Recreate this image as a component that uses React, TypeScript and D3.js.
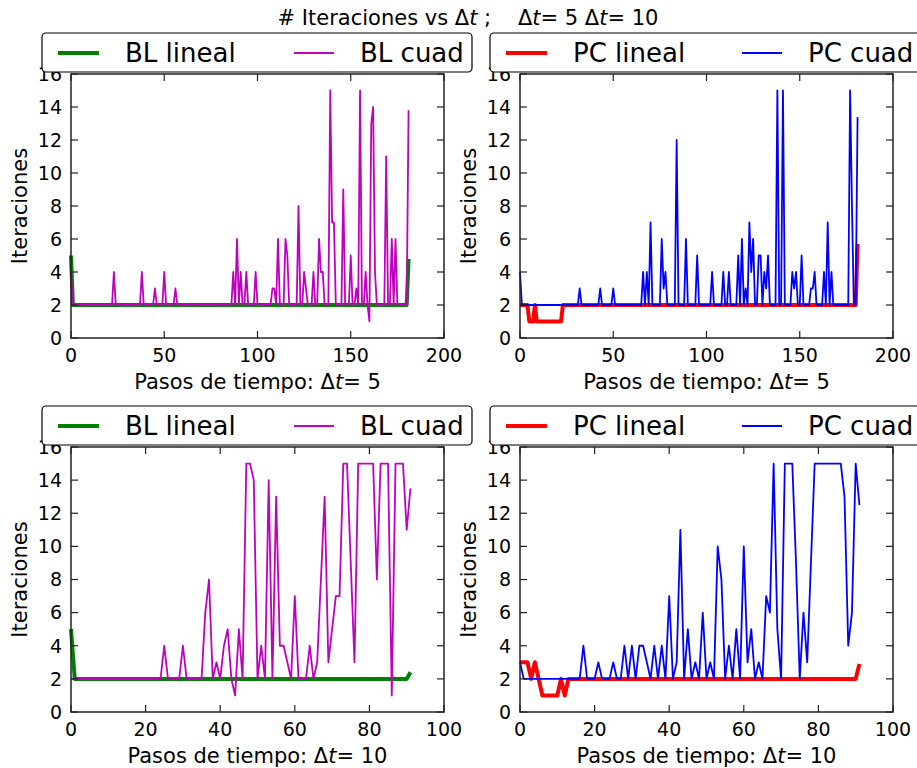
import React from 'react';
import * as d3 from 'd3';

// iteraciones por paso de tiempo, dt = 5 (182 pasos) y dt = 10 (92 pasos)
const blLinealDt5 = [
  5, 2, 2, 2, 2, 2, 2, 2, 2, 2, 2, 2, 2, 2, 2, 2, 2, 2, 2, 2,
  2, 2, 2, 2, 2, 2, 2, 2, 2, 2, 2, 2, 2, 2, 2, 2, 2, 2, 2, 2,
  2, 2, 2, 2, 2, 2, 2, 2, 2, 2, 2, 2, 2, 2, 2, 2, 2, 2, 2, 2,
  2, 2, 2, 2, 2, 2, 2, 2, 2, 2, 2, 2, 2, 2, 2, 2, 2, 2, 2, 2,
  2, 2, 2, 2, 2, 2, 2, 2, 2, 2, 2, 2, 2, 2, 2, 2, 2, 2, 2, 2,
  2, 2, 2, 2, 2, 2, 2, 2, 2, 2, 2, 2, 2, 2, 2, 2, 2, 2, 2, 2,
  2, 2, 2, 2, 2, 2, 2, 2, 2, 2, 2, 2, 2, 2, 2, 2, 2, 2, 2, 2,
  2, 2, 2, 2, 2, 2, 2, 2, 2, 2, 2, 2, 2, 2, 2, 2, 2, 2, 2, 2,
  2, 2, 2, 2, 2, 2, 2, 2, 2, 2, 2, 2, 2, 2, 2, 2, 2, 2, 2, 2,
  2, 4.8,
];

const blCuadDt5 = [
  4, 2, 2, 2, 2, 2, 2, 2, 2, 2, 2, 2, 2, 2, 2, 2, 2, 2, 2, 2,
  2, 2, 2, 4, 2, 2, 2, 2, 2, 2, 2, 2, 2, 2, 2, 2, 2, 2, 4, 2,
  2, 2, 2, 2, 2, 3, 2, 2, 2, 2, 4, 2, 2, 2, 2, 2, 3, 2, 2, 2,
  2, 2, 2, 2, 2, 2, 2, 2, 2, 2, 2, 2, 2, 2, 2, 2, 2, 2, 2, 2,
  2, 2, 2, 2, 2, 2, 2, 4, 2, 6, 2, 4, 2, 2, 4, 2, 2, 2, 2, 4,
  2, 2, 2, 2, 2, 2, 2, 2, 3, 3, 2, 6, 2, 2, 2, 6, 5, 2, 2, 2,
  2, 2, 8, 2, 2, 4, 3, 2, 2, 2, 4, 2, 2, 6, 4, 4, 2, 2, 2, 15,
  7, 7, 2, 2, 2, 2, 9, 2, 2, 2, 5, 2, 2, 3, 2, 15, 2, 2, 4, 2,
  1, 13, 14, 4, 2, 2, 2, 2, 2, 11, 2, 2, 6, 2, 6, 2, 2, 2, 2, 2,
  2, 13.8,
];

const pcLinealDt5 = [
  2, 2, 2, 2, 2, 1, 1, 1, 2, 1, 1, 1, 1, 1, 1, 1, 1, 1, 1, 1,
  1, 1, 1, 2, 2, 2, 2, 2, 2, 2, 2, 2, 2, 2, 2, 2, 2, 2, 2, 2,
  2, 2, 2, 2, 2, 2, 2, 2, 2, 2, 2, 2, 2, 2, 2, 2, 2, 2, 2, 2,
  2, 2, 2, 2, 2, 2, 2, 2, 2, 2, 2, 2, 2, 2, 2, 2, 2, 2, 2, 2,
  2, 2, 2, 2, 2, 2, 2, 2, 2, 2, 2, 2, 2, 2, 2, 2, 2, 2, 2, 2,
  2, 2, 2, 2, 2, 2, 2, 2, 2, 2, 2, 2, 2, 2, 2, 2, 2, 2, 2, 2,
  2, 2, 2, 2, 2, 2, 2, 2, 2, 2, 2, 2, 2, 2, 2, 2, 2, 2, 2, 2,
  2, 2, 2, 2, 2, 2, 2, 2, 2, 2, 2, 2, 2, 2, 2, 2, 2, 2, 2, 2,
  2, 2, 2, 2, 2, 2, 2, 2, 2, 2, 2, 2, 2, 2, 2, 2, 2, 2, 2, 2,
  2, 5.7,
];

const pcCuadDt5 = [
  4, 2, 2, 2, 2, 2, 2, 2, 2, 2, 2, 2, 2, 2, 2, 2, 2, 2, 2, 2,
  2, 2, 2, 2, 2, 2, 2, 2, 2, 2, 2, 2, 3, 2, 2, 2, 2, 2, 2, 2,
  2, 2, 2, 3, 2, 2, 2, 2, 2, 2, 3, 2, 2, 2, 2, 2, 2, 2, 2, 2,
  2, 2, 2, 2, 2, 2, 4, 2, 4, 2, 7, 2, 2, 2, 2, 2, 6, 3, 4, 2,
  2, 2, 2, 2, 12, 2, 2, 2, 2, 6, 2, 2, 2, 2, 2, 5, 2, 2, 2, 2,
  2, 2, 2, 4, 2, 2, 2, 2, 2, 4, 2, 2, 4, 2, 2, 2, 2, 5, 2, 6,
  2, 3, 2, 7, 4, 6, 2, 2, 5, 5, 2, 4, 3, 5, 2, 2, 2, 2, 15, 2,
  2, 15, 2, 2, 2, 2, 4, 3, 4, 2, 2, 5, 2, 2, 2, 2, 3, 3, 4, 2,
  2, 2, 2, 4, 2, 7, 2, 4, 2, 2, 2, 2, 2, 2, 2, 2, 2, 15, 8, 2,
  2, 13.4,
];

const blLinealDt10 = [
  5, 2, 2, 2, 2, 2, 2, 2, 2, 2, 2, 2, 2, 2, 2, 2, 2, 2, 2, 2,
  2, 2, 2, 2, 2, 2, 2, 2, 2, 2, 2, 2, 2, 2, 2, 2, 2, 2, 2, 2,
  2, 2, 2, 2, 2, 2, 2, 2, 2, 2, 2, 2, 2, 2, 2, 2, 2, 2, 2, 2,
  2, 2, 2, 2, 2, 2, 2, 2, 2, 2, 2, 2, 2, 2, 2, 2, 2, 2, 2, 2,
  2, 2, 2, 2, 2, 2, 2, 2, 2, 2, 2, 2.4,
];

const blCuadDt10 = [
  2, 2, 2, 2, 2, 2, 2, 2, 2, 2, 2, 2, 2, 2, 2, 2, 2, 2, 2, 2,
  2, 2, 2, 2, 2, 4, 2, 2, 2, 2, 4, 2, 2, 2, 2, 2, 6, 8, 2, 3,
  2, 4, 5, 2, 1, 5, 2, 15, 15, 14, 2, 4, 2, 14, 2, 13, 4, 4, 3, 2,
  7, 2, 2, 2, 4, 2, 3, 8, 13, 3, 5, 7, 7, 15, 15, 9, 3, 15, 15, 15,
  15, 15, 8, 15, 15, 15, 1, 15, 15, 15, 11, 13.5,
];

const pcLinealDt10 = [
  3, 3, 3, 2, 3, 2, 1, 1, 1, 1, 1, 2, 1, 2, 2, 2, 2, 2, 2, 2,
  2, 2, 2, 2, 2, 2, 2, 2, 2, 2, 2, 2, 2, 2, 2, 2, 2, 2, 2, 2,
  2, 2, 2, 2, 2, 2, 2, 2, 2, 2, 2, 2, 2, 2, 2, 2, 2, 2, 2, 2,
  2, 2, 2, 2, 2, 2, 2, 2, 2, 2, 2, 2, 2, 2, 2, 2, 2, 2, 2, 2,
  2, 2, 2, 2, 2, 2, 2, 2, 2, 2, 2, 2.9,
];

const pcCuadDt10 = [
  3, 2, 2, 2, 2, 2, 2, 2, 2, 2, 2, 2, 2, 2, 2, 2, 2, 4, 2, 2,
  2, 3, 2, 2, 2, 3, 2, 2, 4, 2, 4, 2, 4, 4, 3, 2, 4, 2, 4, 2,
  7, 2, 3, 11, 2, 5, 2, 3, 2, 6, 2, 3, 2, 10, 8, 2, 4, 2, 5, 2,
  10, 3, 5, 2, 3, 2, 7, 6, 15, 5, 2, 15, 15, 15, 9, 2, 6, 3, 9, 15,
  15, 15, 15, 15, 15, 15, 15, 13, 4, 6, 15, 12.5,
];

const yTicks = [0, 2, 4, 6, 8, 10, 12, 14, 16];
const xTicksDt5 = [0, 50, 100, 150, 200];
const xTicksDt10 = [0, 20, 40, 60, 80, 100];

const FONT = 'DejaVu Sans';
const verde = '#008000';
const magenta = '#bf00bf';
const rojo = '#ff0000';
const azul = '#0000ff';

const panels = [
  { x0: 71, x1: 444, y0: 74, y1: 338, xMax: 200, xTicks: xTicksDt5, lineal: blLinealDt5, cuad: blCuadDt5, cLin: verde, cCuad: magenta, dt: '5' },
  { x0: 520, x1: 893, y0: 74, y1: 338, xMax: 200, xTicks: xTicksDt5, lineal: pcLinealDt5, cuad: pcCuadDt5, cLin: rojo, cCuad: azul, dt: '5' },
  { x0: 71, x1: 444, y0: 447, y1: 712, xMax: 100, xTicks: xTicksDt10, lineal: blLinealDt10, cuad: blCuadDt10, cLin: verde, cCuad: magenta, dt: '10' },
  { x0: 520, x1: 893, y0: 447, y1: 712, xMax: 100, xTicks: xTicksDt10, lineal: pcLinealDt10, cuad: pcCuadDt10, cLin: rojo, cCuad: azul, dt: '10' },
];

const legends = [
  { x: 42, w: 430, cLin: verde, cCuad: magenta, lin: 'BL lineal', cuad: 'BL cuad' },
  { x: 490, w: 440, cLin: rojo, cCuad: azul, lin: 'PC lineal', cuad: 'PC cuad' },
];

function Dt() {
  return (
    <>
      <tspan>Δ</tspan>
      <tspan fontStyle="italic">t</tspan>
    </>
  );
}

function Panel({ p }: { p: typeof panels[0] }) {
  const x = d3.scaleLinear().domain([0, p.xMax]).range([p.x0, p.x1]);
  const y = d3.scaleLinear().domain([0, 16]).range([p.y1, p.y0]);
  const line = d3.line<number>().x((d, i) => x(i)).y(d => y(d));
  const tick = 7;
  const axisCol = '#222';
  return (
    <g>
      <path d={line(p.lineal) || ''} fill="none" stroke={p.cLin} strokeWidth={4} strokeLinejoin="round" />
      <path d={line(p.cuad) || ''} fill="none" stroke={p.cCuad} strokeWidth={1.8} strokeLinejoin="round" />
      <rect x={p.x0} y={p.y0} width={p.x1 - p.x0} height={p.y1 - p.y0} fill="none" stroke={axisCol} strokeWidth={1.5} />
      {p.xTicks.map(t => (
        <g key={'x' + t}>
          <line x1={x(t)} x2={x(t)} y1={p.y1} y2={p.y1 - tick} stroke={axisCol} strokeWidth={1.2} />
          <line x1={x(t)} x2={x(t)} y1={p.y0} y2={p.y0 + tick} stroke={axisCol} strokeWidth={1.2} />
          <text x={x(t)} y={p.y1 + 24} textAnchor="middle" fontSize={19}>{t}</text>
        </g>
      ))}
      {yTicks.map(t => (
        <g key={'y' + t}>
          <line x1={p.x0} x2={p.x0 + tick} y1={y(t)} y2={y(t)} stroke={axisCol} strokeWidth={1.2} />
          <line x1={p.x1} x2={p.x1 - tick} y1={y(t)} y2={y(t)} stroke={axisCol} strokeWidth={1.2} />
          <text x={p.x0 - 9} y={y(t)} dy="0.36em" textAnchor="end" fontSize={19}>{t}</text>
        </g>
      ))}
      <text x={(p.x0 + p.x1) / 2} y={p.y1 + 51} textAnchor="middle" fontSize={21}>
        Pasos de tiempo: <Dt />= {p.dt}
      </text>
      <text transform={`translate(${p.x0 - 44},${(p.y0 + p.y1) / 2}) rotate(-90)`} textAnchor="middle" fontSize={21}>
        Iteraciones
      </text>
    </g>
  );
}

function Legend({ l, top }: { l: typeof legends[0]; top: number }) {
  const cy = top + 20;
  return (
    <g>
      <rect x={l.x} y={top} width={l.w} height={39} rx={4} fill="#fff" stroke="#000" strokeWidth={1.2} />
      <line x1={l.x + 16} x2={l.x + 57} y1={cy} y2={cy} stroke={l.cLin} strokeWidth={4} />
      <text x={l.x + 83} y={cy} dy="0.36em" fontSize={26}>{l.lin}</text>
      <line x1={l.x + 252} x2={l.x + 292} y1={cy} y2={cy} stroke={l.cCuad} strokeWidth={1.8} />
      <text x={l.x + 318} y={cy} dy="0.36em" fontSize={26}>{l.cuad}</text>
    </g>
  );
}

export default function App() {
  return (
    <svg width={917} height={768} style={{ position: 'absolute', left: 0, top: 0, display: 'block', fontFamily: FONT, background: '#fff' }}>
      <rect width={917} height={768} fill="#fff" />
      {panels.map((p, i) => <Panel key={i} p={p} />)}
      {[74, 447].map(y0 => legends.map((l, i) => <Legend key={y0 + '-' + i} l={l} top={y0 - 41} />))}
      <text x={468} y={25} textAnchor="middle" fontSize={21} style={{ whiteSpace: 'pre' }}>
        {'# Iteraciones vs '}<Dt />{' ;    '}<Dt />{'= 5 '}<Dt />{'= 10'}
      </text>
    </svg>
  );
}
